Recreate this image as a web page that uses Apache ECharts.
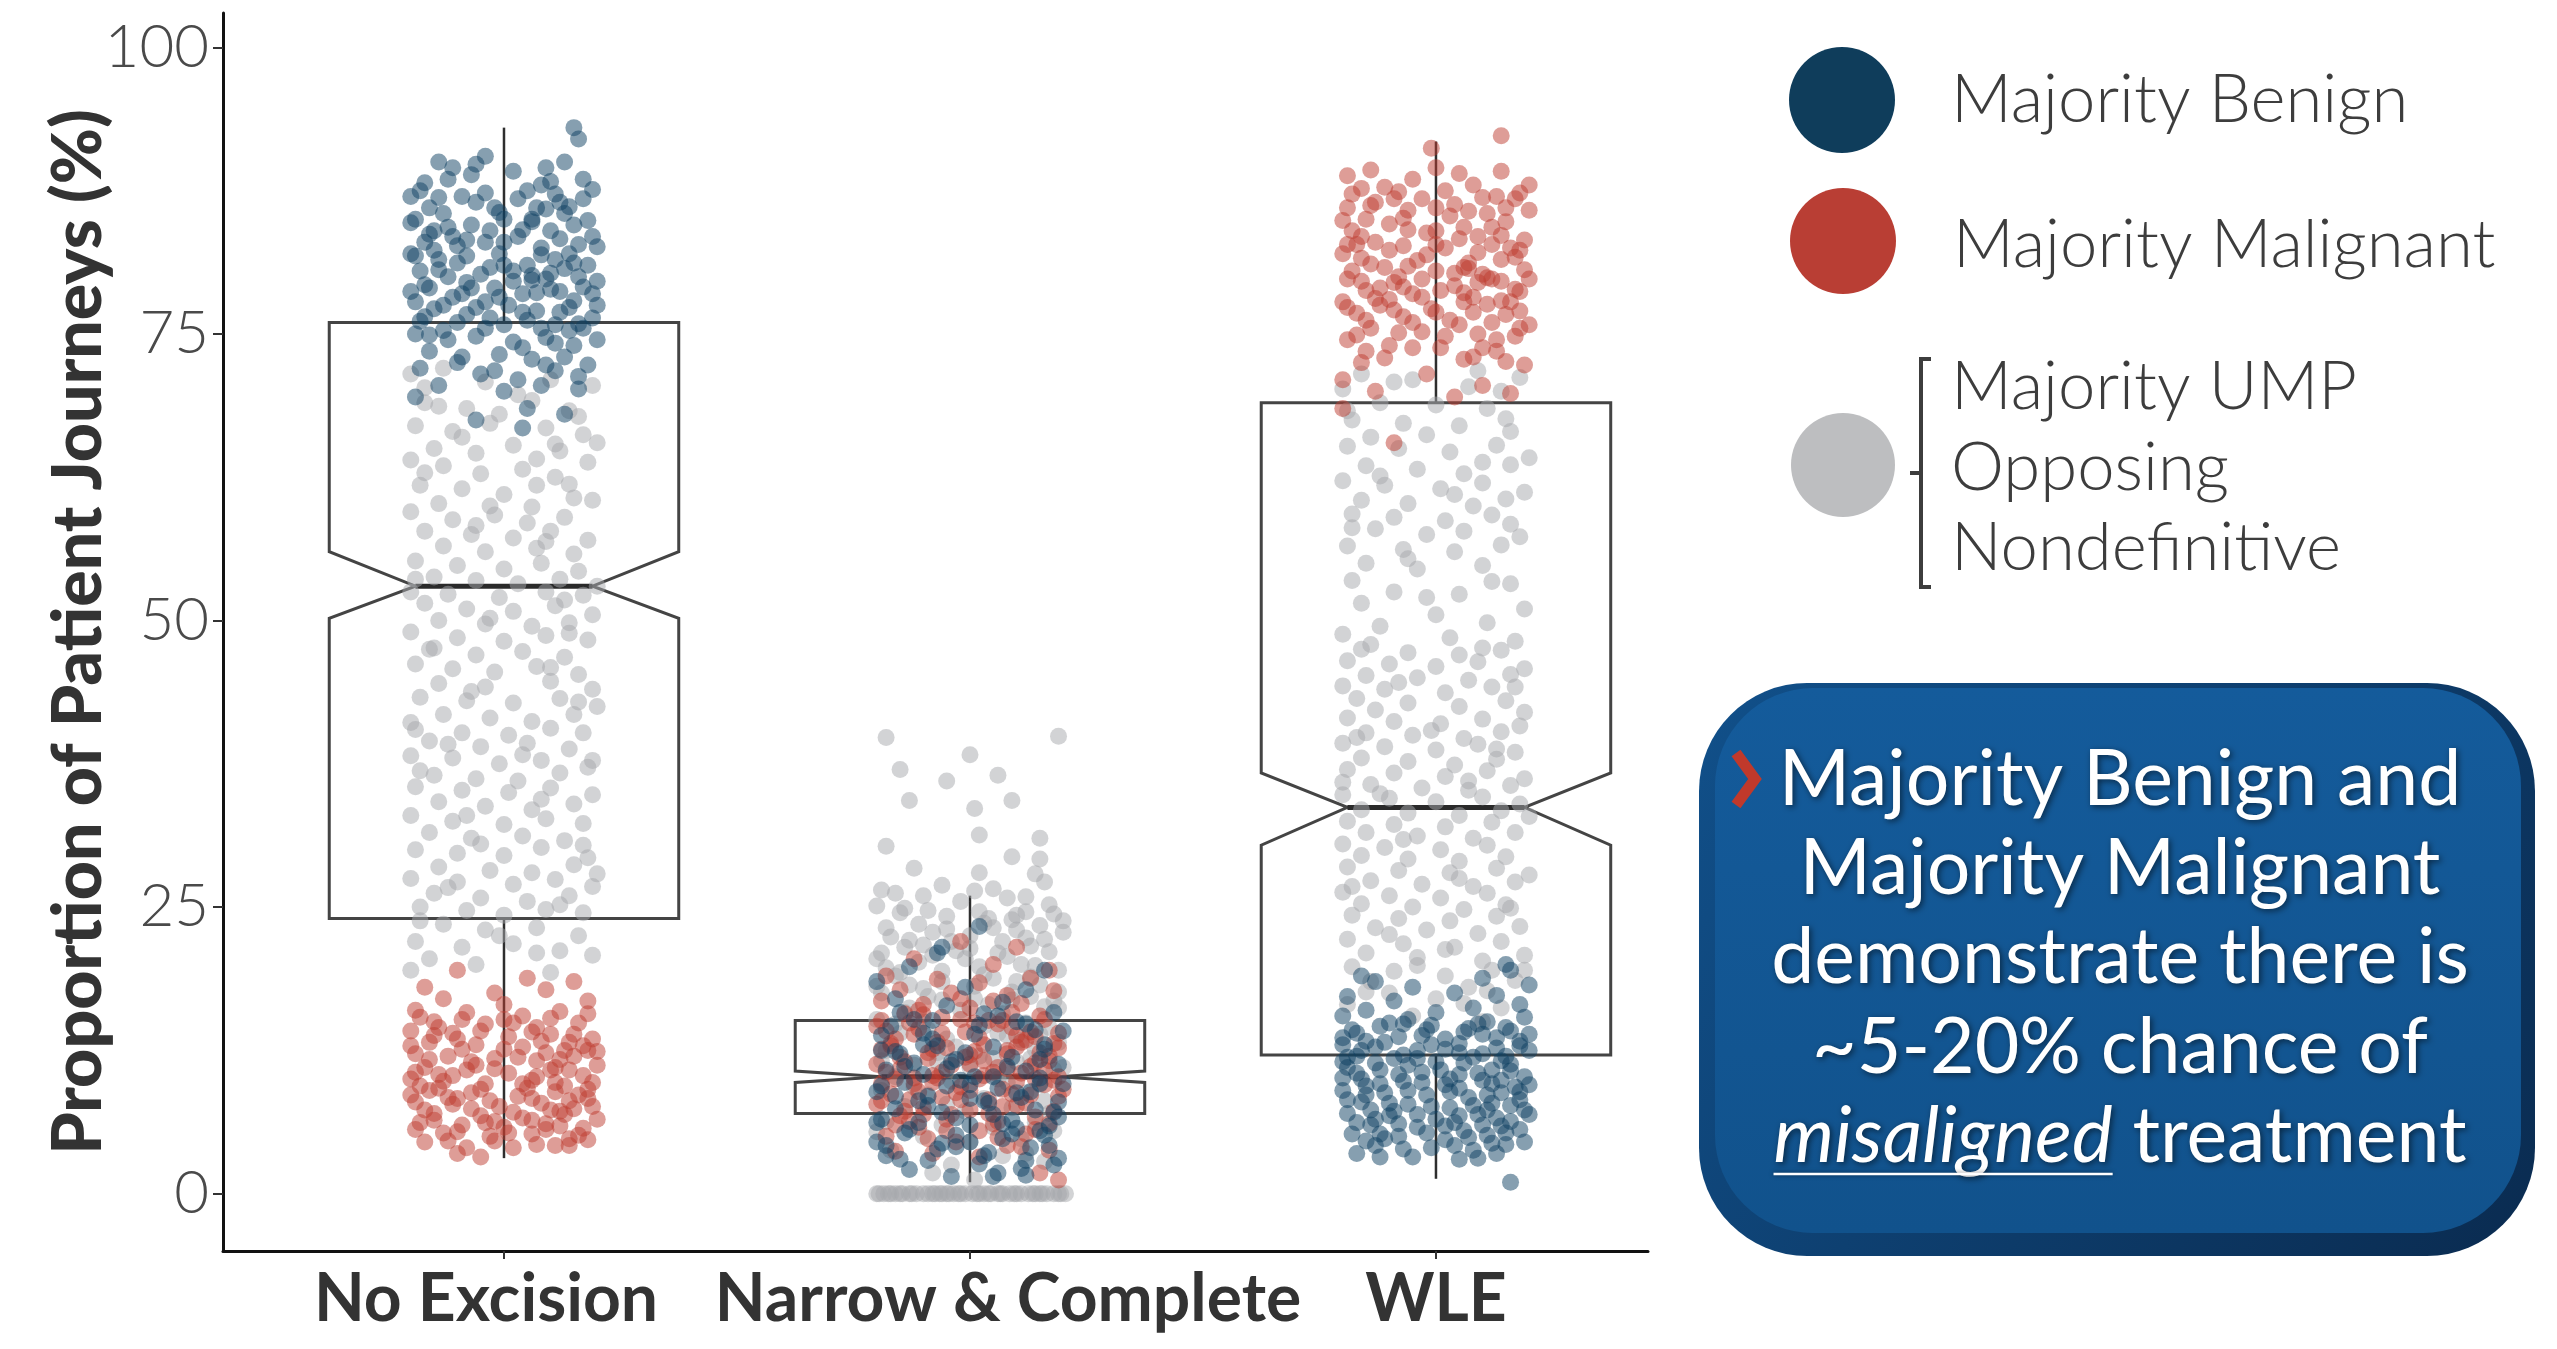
<!DOCTYPE html>
<html><head><meta charset="utf-8">
<script src="https://cdn.jsdelivr.net/npm/echarts@6/dist/echarts.min.js"></script>
<style>html,body{margin:0;padding:0;background:#fff}#c{width:2557px;height:1349px}</style>
</head><body><div id="c"></div>
<script>
const categories = ['No Excision', 'Narrow & Complete', 'WLE'];
const yTicks = [0, 25, 50, 75, 100];
const legendLabels = ['Majority Benign', 'Majority Malignant', 'Majority UMP', 'Opposing', 'Nondefinitive'];
const noteLines = ['Majority Benign and', 'Majority Malignant', 'demonstrate there is', '~5-20% chance of'];
const noteItalic = 'misaligned';
const noteTail = ' treatment';

// notched box statistics per category
const whiskerLow = [3.1, 1.0, 1.3];
const q1 = [24, 7, 12.1];
const notchLow = [50.2, 9.7, 30.4];
const median = [53, 10.2, 33.7];
const notchHigh = [56, 10.7, 36.7];
const q3 = [76, 15.1, 69];
const whiskerHigh = [93, 26, 91.8];

// jittered points, flat pairs: offset from category centre, value (%)
const noExcBenign = [.15,93,.16,92,-.04,90.5,.13,90,-.14,90,-.11,89.5,-.06,89.8,.09,89.5,.17,88.5,-.18,87.5,.08,88,-.2,87,-.16,86,.12,86.5,.05,87.5,-.02,86,-.09,87,
-.19,85,-.13,85.5,-.07,84.5,0,85,.06,85,.1,84,.15,84.5,.19,83.5,-.17,83,-.11,83.5,-.04,83,.03,83.5,.08,82.5,.14,82,-.2,82,-.14,81.5,-.08,81.8,-.01,82,.05,81,.11,81.5,.18,81,-.18,80.5,-.12,80,-.05,80.2,.02,80.5,.09,79.8,.16,80,-.16,79,-.09,78.5,-.02,79,.04,78.5,.12,78.7,.19,78.5,-.19,77.8,-.13,77.5,-.06,77.3,.01,77.5,.07,77,.14,77.3,.2,77.5,-.17,76.5,-.1,76,-.03,76.4,.05,76.2,.11,75.8,.17,75.5,
-.15,84,.13,85.5,-.06,86.5,.07,86,.17,86.8,-.1,82.7,0,81,.1,80.3,-.08,79.5,.06,79.7,-.15,82.3,.16,82.8,-.03,84,.03,86.8,-.12,88.5,.1,88.3,
-.19,75,-.12,74.5,-.06,74.8,.02,74.3,.09,74.7,.15,74,.2,74.5,-.16,73.5,-.09,73,-.01,73.2,.06,72.8,.13,73,-.18,72,-.05,71.5,.03,71,.11,71.8,.18,72.3,-.14,70.5,0,70,.08,70.5,.16,70.2,-.19,69.5,.05,68.5,.13,68,-.06,67.5,.04,66.8,
-.17,88.2,-.07,88.9,.02,89.2,.11,87.2,.19,87.6,-.14,86.9,-.04,87.3,.06,84.8,.14,86.1,-.2,84.7,-.12,84.3,-.01,85.6,.09,85.9,.18,84.9,-.16,83.7,-.08,83.2,.04,84.1,.12,83.3,.2,82.6,-.19,81.8,-.1,81.2,0,83,.08,81.9,.15,81.2,-.14,80.6,-.03,80.8,.06,80.1,.13,80.7,.2,79.6,-.17,79.3,-.07,79,.02,79.6,.1,78.9,.17,79.1,-.2,78.7,-.11,78.2,-.01,78.2,.07,78.6,.15,77.9,-.15,77.2,-.04,77.8,.04,76.9,.12,76.9,.19,76.4,-.18,76.1,-.08,76.7,0,75.8,.08,75.5,.16,75.9,-.13,75.3,-.04,75.5,.14,75.3,-.16,74.9,.04,73.8,.11,74.2,-.1,72.5,.09,72.3,-.02,71.8,.16,71.3];
const noExcOther = [-.2,71.5,-.13,72,-.04,70.8,.1,71,.19,70.5,-.17,69,-.08,68.5,.06,69.2,.14,68.3,-.01,68,
-.19,67,-.11,66.5,-.03,67.2,.09,66.8,.17,66.2,-.15,65,-.06,64.6,.02,65.3,.12,64.8,.2,65.5,-.2,64,
-.13,63.5,-.05,62.8,.04,63.2,.11,62.5,.18,63.8,-.18,61.8,-.09,61.5,0,61,.07,61.8,.15,60.7,-.14,60.2,-.03,60,.19,60.5,
-.2,59.5,-.11,58.8,-.02,59.2,.05,58.5,.13,59,-.17,57.8,-.07,57.5,.02,57.2,.1,57.8,.18,57,-.13,56.5,-.04,56,.07,56.3,.15,55.8,
-.19,55.2,-.1,54.8,0,54.5,.08,55,.16,54.3,-.15,53.8,-.06,53.5,.03,53.2,.12,53.6,.2,53,-.2,52.5,-.12,52.3,-.01,52,.09,52.5,.17,52.2,
-.17,51.5,-.08,51,.02,50.8,.11,51.3,.19,50.5,-.14,50,-.04,49.7,.06,49.5,.14,49.8,-.2,49,-.1,48.5,0,48.2,.09,48.7,.18,48.3,
-.16,47.5,-.06,47,.04,47.3,.13,46.8,-.19,46.2,-.11,45.8,-.02,45.5,.07,46,.16,45.3,-.14,44.5,-.04,44.2,.1,44.7,.19,44,
-.18,43.3,-.08,43,.02,42.8,.12,43.2,.2,42.5,-.13,41.8,-.03,41.5,.06,41.2,.15,41.8,-.19,40.5,-.09,40.2,.01,40,.1,40.6,.17,40.2,
-.16,39.5,-.05,39,.05,39.3,.14,38.8,-.2,38.2,-.11,38,-.01,37.5,.08,37.8,.18,37.2,-.15,36.5,-.06,36.2,.03,36,.12,36.7,
-.19,35.5,-.09,35.2,.01,35,.1,35.4,.19,34.8,-.14,34.2,-.04,33.8,.06,33.5,.15,34,-.2,33,-.11,32.5,0,32.2,.09,32.7,.17,32.3,
-.16,31.5,-.07,31,.04,31.2,.13,30.8,-.19,30,-.1,29.7,0,29.5,.08,30.2,.18,29.3,-.14,28.5,-.03,28.2,.06,28,.15,28.7,
-.2,27.5,-.1,27.2,.02,27,.11,27.4,.19,26.8,-.15,26.2,-.05,25.8,.05,25.5,.14,26,-.18,25,-.08,24.7,0,24.3,.09,24.8,.17,24.5,
-.13,23.5,-.04,23,.07,23.2,.16,22.5,-.19,22,-.09,21.5,.02,21.8,.12,21.2,-.16,20.5,-.06,20,.19,20.8,-.2,19.5,.1,19.3,
-.17,70.3,.03,69.7,.16,67.8,-.09,66,.07,64.1,-.17,62.9,.14,61.9,-.06,58.3,.09,56.9,-.19,53.6,.13,51.8,-.03,50.2,-.15,47.6,.1,45.9,-.07,43.8,.16,42.9,-.12,39.2,.04,38.3,.19,37.8,-.18,36.9,.08,34.4,-.05,30.5,.17,30.4,-.12,26.7,.12,25.2,-.01,22.5,.07,21,-.18,23.8,.2,27.9,-.08,33,.11,65.4,-.14,68.7,.06,59.9,-.2,41.1,.14,48.9];
const noExcMalignant = [-.1,19.5,.05,18.8,.15,18.5,-.17,18,-.02,17.5,.09,17.8,-.13,17,.18,16.8,0,16.5,
-.19,16,-.08,15.8,.04,15.5,.12,15.9,-.15,15,-.04,14.8,.07,14.5,.16,14.9,-.2,14.2,-.11,14,.01,13.7,.1,13.9,.19,13.5,-.16,13.2,-.06,13,.04,12.8,.13,12.5,-.19,12.2,-.12,12,-.02,11.8,.07,11.6,.15,12,.2,11.2,-.17,11,-.08,10.8,.01,10.5,.1,10.8,.17,10.3,-.2,10,-.13,9.8,-.04,9.6,.06,9.9,.13,9.4,.19,9.7,-.16,9,-.07,8.8,.03,8.5,.11,8.9,.18,8.3,-.19,8,-.11,7.8,-.01,7.6,.08,7.9,.15,7.4,-.15,7,-.05,6.8,.04,6.6,.13,6.9,.2,6.5,-.18,6.2,-.09,6,0,5.8,.09,6.1,.17,5.7,-.13,5.3,-.03,5,.06,5.2,.14,4.8,-.17,4.5,.11,4.2,-.1,3.5,-.05,3.2,.02,4,
-.14,14.5,0,15.2,.14,13.2,-.09,12.6,.11,11,-.14,10.4,.05,9.2,-.1,8.3,.12,7.2,-.02,6.3,.16,8.6,-.18,9.4,.18,12.5,-.06,11.2,.08,13.3,
-.18,15.4,-.09,15.2,.02,14.9,.1,15.3,.18,15.7,-.15,13.8,-.05,14.2,.06,14.1,.15,13.9,-.2,12.9,-.1,13.5,0,12.6,.09,12.3,.17,12.9,-.16,11.7,-.07,11.5,.03,11.9,.12,11.7,.2,12.4,-.19,10.6,-.11,10.3,-.02,10.9,.07,10.2,.14,10.8,-.14,9.2,-.05,9.1,.04,9.6,.11,9.7,.18,9.1,-.2,8.6,-.12,8.4,-.03,8.1,.06,8.3,.14,8.1,-.17,7.3,-.07,7.4,.02,7.1,.1,7.3,.19,7.6,-.15,6.4,-.04,6.2,.06,6.4,.12,5.9,-.19,5.6,-.1,5.4,.01,5.3,.09,5.6,.16,5.1,-.12,4.6,-.02,4.6,.07,4.3,.14,4.2,-.08,4,.18,4.7];

const narrowOther = [-.2,0,-.185,0,-.17,0,-.16,0,-.145,0,-.13,0,-.115,0,-.1,0,-.09,0,-.075,0,-.06,0,-.05,0,-.035,0,-.02,0,-.01,0,.005,0,.02,0,.03,0,.045,0,.06,0,.07,0,.085,0,.1,0,.11,0,.125,0,.14,0,.15,0,.165,0,.18,0,.195,0,.205,0,-.195,0,-.15,0,-.065,0,.04,0,.135,0,-.175,0,-.125,0,-.08,0,-.025,0,.015,0,.065,0,.095,0,.155,0,.19,0,-.045,0,
-.18,39.8,.19,39.9,0,38.3,-.15,37,.01,33.6,-.13,34.3,.09,34.3,.02,31.3,.15,31,-.18,30.3,-.12,28.4,.09,29.4,.15,29.2,.02,28,.16,27.2,-.05,36,.06,36.5,
-.19,26.5,-.1,26,-.02,25.5,.08,25.8,.17,25.2,-.15,24.5,-.05,24.2,.04,24,.12,24.6,.2,23.8,-.18,23.2,-.08,22.8,0,22.5,.1,23,.16,22.2,-.14,21.5,-.03,21.2,.06,21,.13,21.6,-.2,20.5,-.11,20.2,.02,19.8,.11,20,.19,19.5,-.16,19,-.06,18.5,.05,18.8,.15,18.2,-.19,17.5,-.09,17.2,.01,17,.09,17.6,.18,16.8,-.13,16.2,-.02,16,.07,15.7,.16,16.3,-.2,15.2,-.1,15,.03,14.6,.12,14.9,-.15,14,-.05,13.5,.08,13.8,.19,13.2,-.18,12.5,-.07,12.3,.02,12,.14,12.6,-.12,11.2,0,11,.1,11.5,.18,10.8,-.16,10.2,-.04,9.8,.06,10,.15,9.5,-.19,9,-.09,8.6,.03,8.3,.12,8.8,-.14,7.6,-.01,7.2,.09,7.5,.17,7,-.18,6.3,-.06,6,.05,5.8,.14,6.2,-.1,5,0,4.5,.11,4.8,-.17,3.8,.07,3.3,-.04,2.5,.16,2.8,
-.17,22.4,-.11,23.5,-.04,22,.03,23.6,.1,24.3,.15,23.4,.2,22.8,-.18,19.7,-.08,20.8,.07,22,.14,19.9,-.13,18.2,-.01,20.5,.1,18.5,.19,17.6,-.06,16.9,.04,16.5,.13,17.2,-.16,14.8,-.09,14.3,.17,14.5,-.03,12.8,.11,13.4,-.19,11.6,.05,11.8,.2,11,-.12,9.3,.08,9.7,.16,8.1,-.05,7.8,-.2,5.4,.18,5.5,.12,3.5,-.08,1.8,.01,1.2,-.14,24.9,.01,26.4,.12,25.9,
-.16,26.2,-.06,26.9,.05,26.6,.14,27.9,-.2,25.1,-.09,24.7,.02,24.6,.09,23.9,.18,24.4,-.13,22.1,-.05,23.1,.05,23.2,.12,22.3,-.19,21,-.1,21.7,0,21.4,.08,20.7,.17,21.1,-.15,19.3,-.06,19.4,.03,19.1,.13,18.9,-.2,18.1,-.1,17.9,.01,18.1,.09,16.9,.19,16.2,-.14,15.8,.06,14,.15,13.9,-.07,11.5,.13,11.8];
const narrowMalignant = [-.02,22,.1,21.5,-.12,20.5,.05,20,.17,19.5,-.18,19,-.07,18.7,.02,18.4,.13,18.8,-.15,17.8,-.04,17.5,.08,17.3,.18,17.7,-.19,16.8,-.1,16.5,0,16.2,.11,16.6,-.14,15.7,-.06,15.4,.04,15.1,.15,15.5,-.2,14.6,-.11,14.4,-.01,14.1,.09,14.5,.19,14,-.16,13.5,-.07,13.2,.03,13,.12,13.4,-.19,12.6,-.09,12.3,0,12.1,.08,12.5,.17,12,-.14,11.5,-.04,11.2,.06,11,.14,11.4,-.18,10.6,-.08,10.3,.02,10,.11,10.5,.19,10.2,-.12,9.6,-.02,9.3,.07,9.1,.16,9.5,-.17,8.7,-.06,8.4,.04,8.2,.13,8.6,-.2,7.8,-.1,7.5,0,7.3,.1,7.7,.18,7.2,-.15,6.8,-.05,6.5,.06,6.3,.14,6.7,-.11,5.8,.02,5.5,.12,5.2,-.18,5,-.03,4.5,.08,4.2,.17,3.8,-.08,3.5,.15,1.8,-.13,14.9,.05,16.8,-.09,11.8,.1,9.8,-.16,10,.14,13.7,-.02,17,.06,14.8,.17,11.6,.19,1.2,
-.17,12.9,-.12,13.9,-.05,12.7,.03,11.6,.1,12.8,.16,10.8,-.19,9.6,-.13,8.2,-.07,10.1,0,9,.05,10.6,.12,7.9,.2,9.1,-.15,11.9,-.1,6.9,-.01,11.9,.07,7.6,.14,10,.18,13.1,-.2,11.3,-.06,14,.02,13.6,.09,15.8,.15,12.3,-.14,7.2,-.03,8.8,.04,7,.11,13.2,-.08,9.7,.17,6.1,-.18,14.2,.01,14.9,-.11,16,.13,14.1,.08,10.9,-.16,6,.06,4.9,-.05,5.5,.19,8.5,
-.19,15.1,-.1,15.6,-.02,15.2,.07,15.1,.16,15.2,-.17,13.1,-.08,12.6,.01,12.4,.1,13.8,.19,12.7,-.15,10.9,-.06,10.6,.03,10.3,.13,11.1,-.19,8.1,-.11,8.9,-.02,8.2,.09,8.7,.18,9.9,-.13,6.3,-.04,6.9,.05,6.1,.14,5.6,-.09,4.8,.11,4.1,.02,3.2,-.16,3.7,0,11.3,-.12,10.1,.08,12.2];
const narrowBenign = [-.06,21.5,-.07,21,.02,23.3,-.2,18.5,.12,17.8,-.16,17,-.05,16.4,.07,16.7,.18,15.8,-.12,15.2,.02,14.7,.14,14.3,-.19,13.8,-.08,13.5,.05,12.8,.16,13,-.15,12.2,-.03,11.7,.09,11.9,.19,11.3,-.18,10.8,-.1,10.4,.01,10.2,.12,10.7,-.14,9.7,-.05,9.4,.06,9.2,.15,9.6,-.2,8.9,-.09,8.5,.03,8.1,.11,8.4,.19,8,-.16,7.4,-.06,7.1,.05,6.9,.14,7.3,-.19,6.5,-.11,6.2,0,6,.09,6.4,.17,5.9,-.14,5.3,-.03,5.1,.07,4.8,.15,5.5,-.18,4.2,-.07,3.9,.04,3.6,.13,4,-.15,3,.02,2.6,.11,2.2,-.04,1.5,.06,1.8,.18,2.5,-.1,13,.1,15,-.01,18,.16,19.5,-.13,19.8,0,4.5,
-.19,12.5,-.12,11.4,-.07,12.9,.01,13.9,.08,11.1,.15,10.1,.2,9.6,-.16,8.5,-.09,7.7,-.02,9.9,.04,7.9,.1,5.7,.17,4.2,-.18,3.3,-.13,2.1,-.06,4.4,.03,3.3,.12,2.9,.19,3.1,-.04,11.5,.06,15.5,-.15,15.8,.13,8.9,-.1,14,0,8.3,.16,12.6,-.2,6.2,.09,5.2,-.03,6.6,.05,1.5,
-.17,14.6,-.08,15.1,.03,15.7,.12,14.8,.2,14.2,-.14,11.1,-.05,10.9,.05,10.2,.15,11.7,-.19,9.4,-.11,8.1,0,9.5,.1,8.8,.18,7.1,-.13,5.6,-.03,4.1,.07,6.1,.16,5.1,-.2,4.5,-.09,2.9,.12,1.6,.19,6.7,-.16,12.4,-.01,12.3];

const wleMalignant = [.14,92.3,-.01,91.2,0,89.5,-.14,89.3,.14,89.2,.08,88,-.16,87.7,-.11,87.8,-.08,87.4,.04,86.3,.17,86.8,-.19,86,-.06,85.8,.11,85.5,.2,85.8,-.15,85,-.1,84.6,.06,84.3,.15,84.8,-.18,84,-.02,83.8,.09,83.5,.19,83.2,-.13,83,-.07,82.7,.02,82.5,.12,82.8,-.2,82,-.16,81.6,-.04,81.4,.07,81.2,.17,81.7,-.11,80.8,0,80.5,.1,80.2,.19,80.6,-.19,79.8,-.09,79.5,.04,79.2,.14,79.6,-.15,78.8,-.05,78.5,.08,78.2,.18,78.7,-.2,77.8,-.12,77.5,-.01,77.2,.11,77.6,-.17,76.8,-.07,76.5,.03,76.2,.15,76.7,.2,75.8,-.14,75.5,-.03,75.2,.09,75,-.19,74.5,.17,74.8,-.1,74,.01,73.8,.13,73.5,-.16,72.5,.06,72.8,.19,72.3,-.02,71.5,-.2,71,.1,70.5,-.13,70,.16,69.8,-.2,68.5,.04,69.5,-.09,65.5,
-.13,86.5,0,86,.13,87,-.05,88.5,.05,89,-.17,82.8,0,84,.16,82.5,-.08,80,.06,80.8,-.12,79,.11,79.9,-.03,79.8,.18,77,-.1,78,.06,77.8,-.05,76,.13,74.5,-.15,73.5,.08,73,.2,88,-.19,88.8,
-.18,87.2,-.09,86.8,.02,87.5,.1,86.9,.18,87.3,-.14,86.2,-.03,86.8,.07,85.7,.15,86,-.2,84.9,-.07,85.1,.03,85.3,.12,84.3,-.16,83.5,-.06,84.1,.05,83.3,.14,83.6,-.19,82.8,-.1,82.3,0,82.8,.09,82.1,.18,82.3,-.14,81.1,-.02,81.9,.07,80.7,.14,81.5,-.18,80.5,-.06,80.9,.04,80.3,.12,79.8,.2,79.8,-.16,79.6,-.07,79.1,.01,78.8,.09,79.5,.17,78.9,-.13,78.1,-.03,78.2,.06,78.6,.14,77.9,-.19,77.3,-.09,77.1,0,76.9,.08,76.9,.16,77.8,-.15,76.2,.05,75.8,.12,76,-.08,75.1,.02,74.8,.18,75.5,-.17,74.9,-.05,73.8,.1,73.8,-.11,72.9,.15,72.6];
const wleOther = [-.16,71.5,-.05,71,.09,71.8,.18,71.2,-.2,70.2,.14,70,-.12,69,0,68.8,.11,68.5,-.18,67.5,-.07,67.2,.05,67,.16,66.5,-.14,66,
-.19,65.2,-.08,65,.03,64.7,.13,65.3,.2,64.2,-.15,63.5,-.04,63.2,.06,62.8,.16,63.6,-.2,62.2,-.11,61.8,.01,61.5,.1,62,.19,61.2,-.16,60.5,-.06,60.2,.08,60,.15,60.6,
-.18,59.3,-.09,59,.02,58.7,.12,59.2,-.13,58,-.02,57.5,.06,57.8,.18,57.3,-.19,56.5,-.07,56.2,.04,56,.14,56.6,-.15,55,.1,54.8,-.04,54.5,
-.18,53.5,.16,53.2,-.09,52.5,.05,52.3,-.16,51.5,.19,51,0,50.5,-.12,49.5,.11,49.8,-.2,48.8,.03,48.5,.17,48.2,
-.16,47.5,-.06,47.2,.05,47,.14,47.4,-.19,46.5,-.1,46.2,0,46,.09,46.4,.19,45.8,-.15,45.2,-.04,45,.07,44.8,.16,45.3,-.2,44.3,-.11,44,.02,43.7,.12,44.2,-.17,43.2,-.06,42.8,.05,42.5,.15,43,-.13,42.2,.19,42,
-.19,41.5,-.09,41.2,.01,41,.1,41.4,.18,40.8,-.15,40.2,-.05,40,.06,39.7,.14,40.3,-.2,39.3,-.11,39,0,38.7,.09,39.2,.17,38.5,-.16,38,-.06,37.7,.04,37.4,.13,37.9,-.19,37,-.09,36.7,.02,36.4,.11,36.9,.19,36.2,
-.14,35.7,-.03,35.4,.07,35.2,.16,35.6,-.2,34.8,-.1,34.5,0,34.2,.1,34.6,.18,34,-.16,33.5,-.06,33.2,.05,33,.14,33.4,-.19,32.5,-.09,32.2,.02,32,.12,32.4,-.15,31.5,-.04,31.2,.08,31,.17,31.5,-.2,30.5,-.11,30.2,.01,30,.11,30.4,
-.16,29.5,-.06,29.2,.05,29,.15,29.4,-.19,28.5,-.08,28.2,.03,28,.13,28.4,.2,27.8,-.14,27.3,-.03,27,.08,26.8,.17,27.2,-.2,26.3,-.1,26,.01,25.8,.11,26.2,-.16,25.3,-.05,25,.06,24.8,.15,25.2,-.18,24.3,-.08,24,.03,23.8,.13,24.2,
-.13,23.2,-.02,23,.09,22.7,.18,23.3,-.19,22.2,-.07,21.8,.04,21.5,.14,22,-.15,21,-.04,20.6,.1,20.3,.19,20.8,-.18,19.8,-.09,19.4,.02,19,.12,19.5,-.14,18.5,.07,18,.17,18.6,-.1,17.5,0,17,-.19,16.5,.14,16.2,-.05,15.5,.1,15,
-.09,70.8,.07,70.4,-.19,68.3,.15,67.6,-.02,66.2,.1,63.8,-.12,62.6,.04,61,-.18,58.1,.16,58.4,-.06,55.4,.12,53.4,-.02,52,-.14,47.9,.1,47.6,-.08,44.6,.17,44.2,-.01,40.4,-.17,39.8,.13,38.8,.07,36,-.12,34.9,.2,32.9,-.07,30.9,.05,27.5,-.18,26.8,.16,24.9,-.1,22.6,.02,21.3,.11,17.7,-.15,17.6,.06,16.6,-.04,19.9,.19,19.5,-.2,35.9];
const wleBenign = [.15,20,.16,19.5,-.16,19,-.13,18.5,.1,18.8,.2,18.2,-.05,18,.04,17.5,-.19,17.2,.13,17.3,-.09,16.8,.18,16.5,-.15,16,0,15.8,.08,16.2,-.2,15.5,-.06,15.2,.11,15,.19,15.4,-.12,14.6,-.02,14.3,.06,14.1,.15,14.5,-.17,14,-.08,13.7,.02,13.5,.1,13.9,.18,13.3,-.2,13,-.13,12.8,-.04,12.5,.05,12.3,.13,12.7,-.17,12,-.09,11.8,0,11.5,.08,11.9,.16,11.3,-.19,11,-.12,10.8,-.03,10.6,.05,10.4,.12,10.8,.19,10.2,-.16,10,-.07,9.8,.02,9.5,.1,9.9,.17,9.3,-.2,9,-.11,8.8,-.02,8.6,.07,8.4,.14,8.8,-.16,8,-.06,7.8,.03,7.5,.12,7.9,.19,7.3,-.19,7,-.1,6.8,0,6.5,.09,6.9,.16,6.3,-.14,6,-.04,5.8,.06,5.5,.14,5.9,-.18,5.2,-.08,5,.02,4.7,.11,5.1,.19,4.5,-.13,4.2,-.01,4,.08,3.8,.15,4.3,-.17,3.5,-.05,3.2,.05,3,.16,1,
-.15,13.3,.15,12,-.06,11.2,.12,9.6,-.09,7.2,.04,6.2,-.15,9.4,.18,8.2,-.01,13,.09,14.8,-.11,4.8,.13,3.5,-.2,11.5,.2,12.5,-.07,14.8,.03,10,-.13,6.5,.11,7.3,
-.18,14.3,-.1,14.9,-.01,14.7,.07,14.4,.16,14.2,-.2,13.6,-.11,13.2,-.03,13.8,.05,13.1,.13,13.6,.2,13.9,-.16,12.5,-.07,12.1,.02,12.6,.1,12.2,.18,12.9,-.19,11.9,-.13,11.4,-.04,11.8,.06,11.4,.14,11.6,-.17,10.5,-.08,10.4,.01,10.8,.09,10.5,.16,10.7,-.2,10.1,-.12,9.6,-.03,9.7,.05,9.2,.14,9.9,.2,9.5,-.15,8.6,-.06,9,.03,8.9,.11,8.6,.18,8.9,-.19,8.2,-.1,7.9,-.01,7.6,.08,7.7,.16,7.7,-.14,7.3,-.04,6.9,.05,6.8,.13,6.6,.2,6.9,-.17,6.2,-.08,6.1,.02,5.9,.1,6,.18,5.6,-.12,5.2,-.02,5.3,.07,4.9,.15,5.3,-.15,4.6,.04,4.2,.12,4.4,-.07,3.9,.09,3.1,-.12,3.2];

const colorBenign = '#0e3f62', colorMalignant = '#be3b30', colorOther = '#a6a8ab';
const groups = [
  {cat: 0, pts: noExcOther, color: colorOther},
  {cat: 0, pts: noExcMalignant, color: colorMalignant},
  {cat: 0, pts: noExcBenign, color: colorBenign},
  {cat: 1, pts: narrowOther, color: colorOther},
  {cat: 1, pts: narrowMalignant, color: colorMalignant},
  {cat: 1, pts: narrowBenign, color: colorBenign},
  {cat: 2, pts: wleOther, color: colorOther},
  {cat: 2, pts: wleBenign, color: colorBenign},
  {cat: 2, pts: wleMalignant, color: colorMalignant}
];
function pairs(flat, cat) {
  const out = [];
  for (let i = 0; i < flat.length; i += 2) out.push([cat + 1 + flat[i], flat[i + 1]]);
  return out;
}

const chart = echarts.init(document.getElementById('c'), null, {renderer: 'canvas'});
const FONT = 'Lato, "Open Sans", "Noto Sans", sans-serif';

const boxSeries = {
  type: 'custom',
  z: 1,
  silent: true,
  renderItem: function (params, api) {
    const x = api.value(0);
    const wl = api.value(1), a = api.value(2), nl = api.value(3), m = api.value(4),
          nh = api.value(5), b = api.value(6), wh = api.value(7);
    const hw = 0.375, nw = 0.19;
    const P = (dx, y) => api.coord([x + dx, y]);
    const poly = [P(-hw, b), P(hw, b), P(hw, nh), P(nw, m), P(hw, nl), P(hw, a), P(-hw, a), P(-hw, nl), P(-nw, m), P(-hw, nh)];
    const top = P(0, b), topW = P(0, wh), bot = P(0, a), botW = P(0, wl);
    const ml = P(-nw, m), mr = P(nw, m);
    return {
      type: 'group',
      children: [
        {type: 'line', shape: {x1: top[0], y1: top[1], x2: topW[0], y2: topW[1]}, style: {stroke: '#2e2e2e', lineWidth: 2.5}},
        {type: 'line', shape: {x1: bot[0], y1: bot[1], x2: botW[0], y2: botW[1]}, style: {stroke: '#2e2e2e', lineWidth: 2.5}},
        {type: 'polygon', shape: {points: poly}, style: {fill: '#ffffff', stroke: '#444', lineWidth: 3}},
        {type: 'line', shape: {x1: ml[0], y1: ml[1], x2: mr[0], y2: mr[1]}, style: {stroke: '#2a2a2a', lineWidth: 5}}
      ]
    };
  },
  encode: {x: 0, y: [1, 2, 3, 4, 5, 6, 7]},
  data: categories.map((c, i) => [i + 1, whiskerLow[i], q1[i], notchLow[i], median[i], notchHigh[i], q3[i], whiskerHigh[i]])
};

const scatterSeries = groups.map(g => ({
  type: 'scatter',
  z: 2,
  silent: true,
  symbol: 'circle',
  symbolSize: 17,
  itemStyle: {color: g.color, opacity: 0.5},
  data: pairs(g.pts, g.cat)
}));

// text metrics for the underline under the italic word
const cv = document.createElement('canvas').getContext('2d');
const noteSize = 77;
cv.font = 'italic ' + noteSize + 'px ' + FONT;
const wItalic = cv.measureText(noteItalic).width;
cv.font = noteSize + 'px ' + FONT;
const wTail = cv.measureText(noteTail).width;
const noteCx = 2120;
const ulStart = noteCx - (wItalic + wTail) / 2;

const noteY = [780, 869, 958, 1048, 1137];
const textShadow = {textShadowColor: 'rgba(0,0,0,0.55)', textShadowBlur: 6, textShadowOffsetX: 2, textShadowOffsetY: 2};
const legFont = '300 67px ' + FONT;

const graphics = [
  // legend
  {type: 'circle', shape: {cx: 1842, cy: 100, r: 53}, style: {fill: '#0f3d5b'}},
  {type: 'circle', shape: {cx: 1843, cy: 241, r: 53}, style: {fill: '#b93e34'}},
  {type: 'circle', shape: {cx: 1843, cy: 465, r: 52}, style: {fill: '#bdbec0'}},
  {type: 'text', x: 1951, y: 100, style: {text: legendLabels[0], font: legFont, fill: '#3d3d3d', verticalAlign: 'middle'}},
  {type: 'text', x: 1953, y: 245, style: {text: legendLabels[1], font: legFont, fill: '#3d3d3d', verticalAlign: 'middle'}},
  {type: 'text', x: 1951, y: 387, style: {text: legendLabels[2], font: legFont, fill: '#3d3d3d', verticalAlign: 'middle'}},
  {type: 'text', x: 1951, y: 468, style: {text: legendLabels[3], font: legFont, fill: '#3d3d3d', verticalAlign: 'middle'}},
  {type: 'text', x: 1951, y: 548, style: {text: legendLabels[4], font: legFont, fill: '#3d3d3d', verticalAlign: 'middle'}},
  {type: 'polyline', shape: {points: [[1931, 359], [1921, 359], [1921, 587], [1931, 587]]}, style: {stroke: '#3d3d3d', lineWidth: 4, fill: null}},
  {type: 'line', shape: {x1: 1921, y1: 473, x2: 1910, y2: 473}, style: {stroke: '#3d3d3d', lineWidth: 4}},
  // note box
  {type: 'rect', shape: {x: 1699, y: 683, width: 836, height: 573, r: 108},
    style: {fill: new echarts.graphic.LinearGradient(0, 0, 1, 1, [{offset: 0, color: '#11508a'}, {offset: 1, color: '#0a2b50'}])}},
  {type: 'rect', shape: {x: 1715, y: 688, width: 806, height: 545, r: 98},
    style: {fill: new echarts.graphic.LinearGradient(0, 0, 0, 1, [{offset: 0, color: '#145b9b'}, {offset: 1, color: '#11528c'}])}},
  {type: 'polyline', shape: {points: [[1736, 753], [1755, 779], [1736, 805]]}, style: {stroke: '#c0392b', lineWidth: 11, fill: null, lineJoin: 'miter'}},
  {type: 'text', x: noteCx, y: noteY[0], style: Object.assign({text: noteLines[0], font: noteSize + 'px ' + FONT, fill: '#fff', align: 'center', verticalAlign: 'middle'}, textShadow)},
  {type: 'text', x: noteCx, y: noteY[1], style: Object.assign({text: noteLines[1], font: noteSize + 'px ' + FONT, fill: '#fff', align: 'center', verticalAlign: 'middle'}, textShadow)},
  {type: 'text', x: noteCx, y: noteY[2], style: Object.assign({text: noteLines[2], font: noteSize + 'px ' + FONT, fill: '#fff', align: 'center', verticalAlign: 'middle'}, textShadow)},
  {type: 'text', x: noteCx, y: noteY[3], style: Object.assign({text: noteLines[3], font: noteSize + 'px ' + FONT, fill: '#fff', align: 'center', verticalAlign: 'middle'}, textShadow)},
  {type: 'text', x: noteCx, y: noteY[4], style: Object.assign({
    text: '{it|' + noteItalic + '}' + noteTail, font: noteSize + 'px ' + FONT, fill: '#fff', align: 'center', verticalAlign: 'middle',
    rich: {it: {fontStyle: 'italic', fontSize: noteSize, fontFamily: FONT, fill: '#fff', color: '#fff'}}}, textShadow)},
  {type: 'line', shape: {x1: ulStart, y1: 1174, x2: ulStart + wItalic, y2: 1174}, style: {stroke: '#fff', lineWidth: 2.5, shadowColor: 'rgba(0,0,0,0.5)', shadowBlur: 4}}
];

const xLabelStyle = {fontSize: 66, fontWeight: 'bold', fontFamily: FONT, color: '#333'};

chart.setOption({
  animation: false,
  backgroundColor: '#ffffff',
  grid: {left: 223, right: 909, top: 13, bottom: 98, containLabel: false},
  xAxis: {
    type: 'value', min: 0.397, max: 3.455,
    splitLine: {show: false},
    axisLine: {onZero: false, lineStyle: {color: '#111', width: 3}},
    axisTick: {customValues: [1, 2, 3], length: 8, lineStyle: {color: '#333', width: 2}},
    axisLabel: {customValues: [1, 2, 3], hideOverlap: false, margin: 16,
      formatter: v => { const i = Math.round(v) - 1; return '{c' + i + '|' + categories[i] + '}'; },
      fontSize: 66, fontWeight: 'bold', fontFamily: FONT, color: '#333',
      rich: {
        c0: Object.assign({padding: [0, 36, 0, 0]}, xLabelStyle),
        c1: Object.assign({padding: [0, 0, 0, 76]}, xLabelStyle),
        c2: Object.assign({}, xLabelStyle)
      }}
  },
  yAxis: {
    type: 'value', min: -5, max: 103,
    name: 'Proportion of Patient Journeys (%)', nameLocation: 'middle', nameGap: 110, nameMoveOverlap: false,
    nameTextStyle: {fontSize: 68, fontWeight: 900, fontFamily: FONT, color: '#333'},
    splitLine: {show: false},
    axisLine: {onZero: false, lineStyle: {color: '#111', width: 3}},
    axisTick: {customValues: yTicks, length: 10, lineStyle: {color: '#333', width: 2}},
    axisLabel: {customValues: yTicks, margin: 14, fontSize: 60, fontWeight: 300, fontFamily: FONT, color: '#4a4a4a'}
  },
  series: [boxSeries].concat(scatterSeries),
  graphic: graphics
});
</script></body></html>
